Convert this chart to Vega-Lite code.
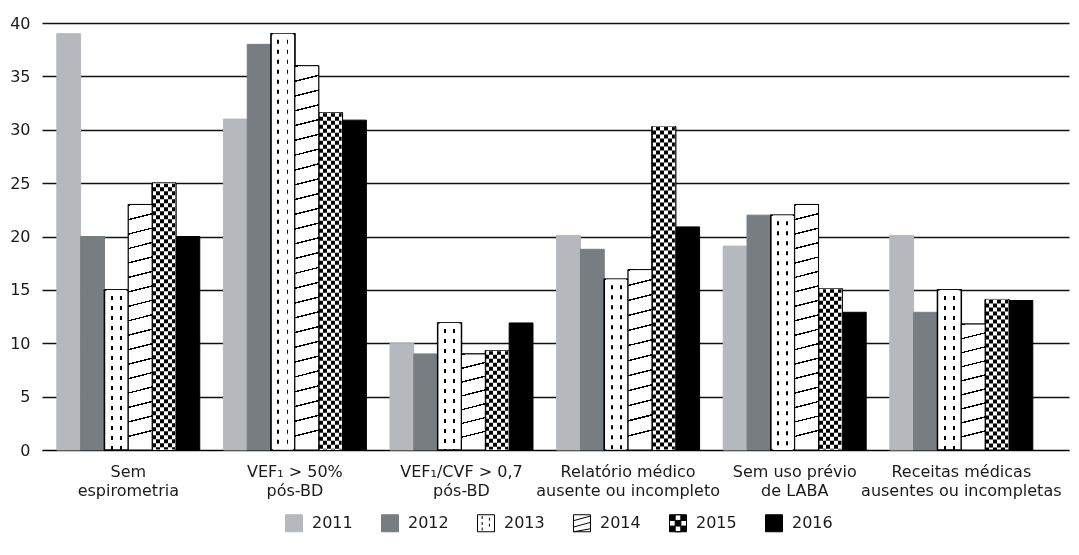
{
  "$schema": "https://vega.github.io/schema/vega-lite/v6.json",
  "width": 1027,
  "height": 427,
  "autosize": {"type": "none"},
  "padding": {"left": 42, "top": 23, "right": 10, "bottom": 105},
  "background": "white",
  "config": {
    "font": "DejaVu Sans",
    "view": {"stroke": null},
    "legend": {"labelFont": "DejaVu Sans", "labelFontSize": 16, "labelColor": "#1a1a1a", "padding": 0}
  },
  "data": {
    "values": [
      {"cat": "Sem\nespirometria", "year": "2011", "value": 39},
      {"cat": "Sem\nespirometria", "year": "2012", "value": 20},
      {"cat": "Sem\nespirometria", "year": "2013", "value": 15},
      {"cat": "Sem\nespirometria", "year": "2014", "value": 23},
      {"cat": "Sem\nespirometria", "year": "2015", "value": 25},
      {"cat": "Sem\nespirometria", "year": "2016", "value": 20},
      {"cat": "VEF₁ > 50%\npós-BD", "year": "2011", "value": 31},
      {"cat": "VEF₁ > 50%\npós-BD", "year": "2012", "value": 38},
      {"cat": "VEF₁ > 50%\npós-BD", "year": "2013", "value": 39},
      {"cat": "VEF₁ > 50%\npós-BD", "year": "2014", "value": 36},
      {"cat": "VEF₁ > 50%\npós-BD", "year": "2015", "value": 31.6},
      {"cat": "VEF₁ > 50%\npós-BD", "year": "2016", "value": 30.9},
      {"cat": "VEF₁/CVF > 0,7\npós-BD", "year": "2011", "value": 10},
      {"cat": "VEF₁/CVF > 0,7\npós-BD", "year": "2012", "value": 9},
      {"cat": "VEF₁/CVF > 0,7\npós-BD", "year": "2013", "value": 11.9},
      {"cat": "VEF₁/CVF > 0,7\npós-BD", "year": "2014", "value": 9},
      {"cat": "VEF₁/CVF > 0,7\npós-BD", "year": "2015", "value": 9.3},
      {"cat": "VEF₁/CVF > 0,7\npós-BD", "year": "2016", "value": 11.9},
      {"cat": "Relatório médico\nausente ou incompleto", "year": "2011", "value": 20.1},
      {"cat": "Relatório médico\nausente ou incompleto", "year": "2012", "value": 18.8},
      {"cat": "Relatório médico\nausente ou incompleto", "year": "2013", "value": 16},
      {"cat": "Relatório médico\nausente ou incompleto", "year": "2014", "value": 16.9},
      {"cat": "Relatório médico\nausente ou incompleto", "year": "2015", "value": 30.3},
      {"cat": "Relatório médico\nausente ou incompleto", "year": "2016", "value": 20.9},
      {"cat": "Sem uso prévio\nde LABA", "year": "2011", "value": 19.1},
      {"cat": "Sem uso prévio\nde LABA", "year": "2012", "value": 22},
      {"cat": "Sem uso prévio\nde LABA", "year": "2013", "value": 22},
      {"cat": "Sem uso prévio\nde LABA", "year": "2014", "value": 23},
      {"cat": "Sem uso prévio\nde LABA", "year": "2015", "value": 15.1},
      {"cat": "Sem uso prévio\nde LABA", "year": "2016", "value": 12.9},
      {"cat": "Receitas médicas\nausentes ou incompletas", "year": "2011", "value": 20.1},
      {"cat": "Receitas médicas\nausentes ou incompletas", "year": "2012", "value": 12.9},
      {"cat": "Receitas médicas\nausentes ou incompletas", "year": "2013", "value": 15},
      {"cat": "Receitas médicas\nausentes ou incompletas", "year": "2014", "value": 11.8},
      {"cat": "Receitas médicas\nausentes ou incompletas", "year": "2015", "value": 14.1},
      {"cat": "Receitas médicas\nausentes ou incompletas", "year": "2016", "value": 14}
    ]
  },
  "encoding": {
    "x": {
      "field": "cat", "type": "nominal", "sort": null,
      "scale": {"paddingInner": 0.1417, "paddingOuter": 0.153, "align": 0.29},
      "axis": {
        "title": null, "labelAngle": 0, "ticks": false, "domain": true,
        "domainColor": "#000", "domainWidth": 1.2, "grid": false,
        "labelExpr": "split(datum.label, '\\n')",
        "labelFontSize": 16, "labelLineHeight": 19, "labelPadding": 13,
        "labelColor": "#1a1a1a", "labelLimit": 0, "labelFont": "DejaVu Sans"
      }
    },
    "xOffset": {"field": "year", "type": "nominal", "scale": {"paddingInner": 0, "paddingOuter": 0}},
    "y": {
      "field": "value", "type": "quantitative",
      "scale": {"domain": [0, 40], "nice": false},
      "axis": {
        "title": null, "grid": true, "gridColor": "#111", "gridWidth": 1.3,
        "domain": false, "ticks": false, "values": [0, 5, 10, 15, 20, 25, 30, 35, 40],
        "labelFontSize": 16, "labelPadding": 12, "labelColor": "#1a1a1a", "labelFont": "DejaVu Sans"
      }
    }
  },
  "layer": [
    {
      "mark": {"type": "bar", "strokeWidth": 1, "opacity": 1},
      "encoding": {
        "color": {
          "field": "year", "type": "nominal",
          "scale": {"domain": ["2011", "2012", "2013", "2014", "2015", "2016"], "range": ["#b5b9be", "#777d80", "#ffffff", "#ffffff", "#000000", "#000000"]},
          "legend": {"title": null, "orient": "none", "legendX": 243, "legendY": 491, "direction": "horizontal", "symbolSize": 289, "symbolStrokeWidth": 1, "symbolOpacity": 1, "columnPadding": 26, "labelOffset": 9}
        },
        "stroke": {
          "field": "year", "type": "nominal",
          "scale": {"domain": ["2011", "2012", "2013", "2014", "2015", "2016"], "range": ["#b5b9be", "#777d80", "#000000", "#000000", "#000000", "#000000"]},
          "legend": {"title": null, "orient": "none", "legendX": 243, "legendY": 491, "direction": "horizontal", "symbolSize": 289, "symbolStrokeWidth": 1, "symbolOpacity": 1, "columnPadding": 26, "labelOffset": 9}
        }
      }
    },
    {
      "transform": [{"filter": "false"}],
      "mark": {"type": "point", "filled": true, "opacity": 1, "fillOpacity": 1, "strokeOpacity": 1},
      "encoding": {
        "color": {"field": "year", "type": "nominal"},
        "stroke": {"field": "year", "type": "nominal"},
        "shape": {
          "field": "year", "type": "nominal",
          "scale": {"domain": ["2011", "2012", "2013", "2014", "2015", "2016"], "range": [
            "M-1,-1H1V1H-1Z",
            "M-1,-1H1V1H-1Z",
            "M-1,-1H1V1H-1Z M-0.45,-0.85V-0.5 M0.4,-0.65V-0.3 M-0.45,-0.15V0.2 M0.4,0.05V0.4 M-0.45,0.5V0.85",
            "M-1,-1H1V1H-1Z M-1,-0.3L1,-0.85 M-1,0.45L1,-0.1 M-1,1L1,0.65",
            "M-1,-1H1V1H-1Z M-0.333,-1V-0.333H0.333V-1Z M-1,-0.333V0.333H-0.333V-0.333Z M0.333,-0.333V0.333H1V-0.333Z M-0.333,0.333V1H0.333V0.333Z",
            "M-1,-1H1V1H-1Z"
          ]},
          "legend": {"title": null, "orient": "none", "legendX": 243, "legendY": 491, "direction": "horizontal", "symbolSize": 289, "symbolStrokeWidth": 1, "symbolOpacity": 1, "columnPadding": 26, "labelOffset": 9}
        }
      }
    },
    {
      "transform": [{"filter": "datum.year == '2013'"}],
      "mark": {"type": "bar", "stroke": "#000", "strokeWidth": 1.5,
        "fill": {"gradient": "linear", "x1": 0, "y1": 0, "x2": 1, "y2": 0, "stops": [
          {"offset": 0, "color": "#fff"}, {"offset": 0.27, "color": "#fff"}, {"offset": 0.27, "color": "#000"}, {"offset": 0.35, "color": "#000"},
          {"offset": 0.35, "color": "#fff"}, {"offset": 0.65, "color": "#fff"}, {"offset": 0.65, "color": "#000"}, {"offset": 0.73, "color": "#000"},
          {"offset": 0.73, "color": "#fff"}, {"offset": 1, "color": "#fff"}]}}
    },
    {
      "transform": [{"filter": "datum.year == '2013'"}],
      "mark": {"type": "rule", "color": "#fff", "strokeWidth": 20, "strokeDash": [6, 4]},
      "encoding": {"y2": {"datum": 0}}
    },
    {
      "transform": [{"filter": "datum.year == '2015'"}],
      "mark": {"type": "bar", "stroke": "#000", "strokeWidth": 1,
        "fill": {"gradient": "linear", "x1": 0, "y1": 0, "x2": 1, "y2": 0, "stops": [
          {"offset": 0, "color": "#000"}, {"offset": 0.1667, "color": "#000"}, {"offset": 0.1667, "color": "#fff"}, {"offset": 0.3333, "color": "#fff"},
          {"offset": 0.3333, "color": "#000"}, {"offset": 0.5, "color": "#000"}, {"offset": 0.5, "color": "#fff"}, {"offset": 0.6667, "color": "#fff"},
          {"offset": 0.6667, "color": "#000"}, {"offset": 0.8333, "color": "#000"}, {"offset": 0.8333, "color": "#fff"}, {"offset": 1, "color": "#fff"}]}}
    },
    {
      "transform": [{"filter": "datum.year == '2015'"}],
      "mark": {"type": "rule", "color": "#fff", "strokeWidth": 22, "strokeDash": [4, 4], "blend": "difference"},
      "encoding": {"y2": {"datum": 0}}
    },
    {
      "transform": [{"filter": "datum.year == '2014'"}],
      "mark": {"type": "bar", "stroke": "#000", "strokeWidth": 1},
      "encoding": {
        "fill": {
          "condition": [
            {"test": "datum.value >= 30", "value": {"gradient": "linear", "x1": 0, "y1": 0, "x2": 0.0156, "y2": 1, "stops": [
              {"offset": 0, "color": "#fff"}, {"offset": 0, "color": "#000"}, {"offset": 0.0038, "color": "#000"}, {"offset": 0.0038, "color": "#fff"},
              {"offset": 0.0385, "color": "#fff"}, {"offset": 0.0385, "color": "#000"}, {"offset": 0.0423, "color": "#000"}, {"offset": 0.0423, "color": "#fff"},
              {"offset": 0.0769, "color": "#fff"}, {"offset": 0.0769, "color": "#000"}, {"offset": 0.0808, "color": "#000"}, {"offset": 0.0808, "color": "#fff"},
              {"offset": 0.1154, "color": "#fff"}, {"offset": 0.1154, "color": "#000"}, {"offset": 0.1192, "color": "#000"}, {"offset": 0.1192, "color": "#fff"},
              {"offset": 0.1538, "color": "#fff"}, {"offset": 0.1538, "color": "#000"}, {"offset": 0.1577, "color": "#000"}, {"offset": 0.1577, "color": "#fff"},
              {"offset": 0.1923, "color": "#fff"}, {"offset": 0.1923, "color": "#000"}, {"offset": 0.1962, "color": "#000"}, {"offset": 0.1962, "color": "#fff"},
              {"offset": 0.2308, "color": "#fff"}, {"offset": 0.2308, "color": "#000"}, {"offset": 0.2346, "color": "#000"}, {"offset": 0.2346, "color": "#fff"},
              {"offset": 0.2692, "color": "#fff"}, {"offset": 0.2692, "color": "#000"}, {"offset": 0.2731, "color": "#000"}, {"offset": 0.2731, "color": "#fff"},
              {"offset": 0.3077, "color": "#fff"}, {"offset": 0.3077, "color": "#000"}, {"offset": 0.3115, "color": "#000"}, {"offset": 0.3115, "color": "#fff"},
              {"offset": 0.3462, "color": "#fff"}, {"offset": 0.3462, "color": "#000"}, {"offset": 0.35, "color": "#000"}, {"offset": 0.35, "color": "#fff"},
              {"offset": 0.3846, "color": "#fff"}, {"offset": 0.3846, "color": "#000"}, {"offset": 0.3885, "color": "#000"}, {"offset": 0.3885, "color": "#fff"},
              {"offset": 0.4231, "color": "#fff"}, {"offset": 0.4231, "color": "#000"}, {"offset": 0.4269, "color": "#000"}, {"offset": 0.4269, "color": "#fff"},
              {"offset": 0.4615, "color": "#fff"}, {"offset": 0.4615, "color": "#000"}, {"offset": 0.4654, "color": "#000"}, {"offset": 0.4654, "color": "#fff"},
              {"offset": 0.5, "color": "#fff"}, {"offset": 0.5, "color": "#000"}, {"offset": 0.5038, "color": "#000"}, {"offset": 0.5038, "color": "#fff"},
              {"offset": 0.5385, "color": "#fff"}, {"offset": 0.5385, "color": "#000"}, {"offset": 0.5423, "color": "#000"}, {"offset": 0.5423, "color": "#fff"},
              {"offset": 0.5769, "color": "#fff"}, {"offset": 0.5769, "color": "#000"}, {"offset": 0.5808, "color": "#000"}, {"offset": 0.5808, "color": "#fff"},
              {"offset": 0.6154, "color": "#fff"}, {"offset": 0.6154, "color": "#000"}, {"offset": 0.6192, "color": "#000"}, {"offset": 0.6192, "color": "#fff"},
              {"offset": 0.6538, "color": "#fff"}, {"offset": 0.6538, "color": "#000"}, {"offset": 0.6577, "color": "#000"}, {"offset": 0.6577, "color": "#fff"},
              {"offset": 0.6923, "color": "#fff"}, {"offset": 0.6923, "color": "#000"}, {"offset": 0.6962, "color": "#000"}, {"offset": 0.6962, "color": "#fff"},
              {"offset": 0.7308, "color": "#fff"}, {"offset": 0.7308, "color": "#000"}, {"offset": 0.7346, "color": "#000"}, {"offset": 0.7346, "color": "#fff"},
              {"offset": 0.7692, "color": "#fff"}, {"offset": 0.7692, "color": "#000"}, {"offset": 0.7731, "color": "#000"}, {"offset": 0.7731, "color": "#fff"},
              {"offset": 0.8077, "color": "#fff"}, {"offset": 0.8077, "color": "#000"}, {"offset": 0.8115, "color": "#000"}, {"offset": 0.8115, "color": "#fff"},
              {"offset": 0.8462, "color": "#fff"}, {"offset": 0.8462, "color": "#000"}, {"offset": 0.85, "color": "#000"}, {"offset": 0.85, "color": "#fff"},
              {"offset": 0.8846, "color": "#fff"}, {"offset": 0.8846, "color": "#000"}, {"offset": 0.8885, "color": "#000"}, {"offset": 0.8885, "color": "#fff"},
              {"offset": 0.9231, "color": "#fff"}, {"offset": 0.9231, "color": "#000"}, {"offset": 0.9269, "color": "#000"}, {"offset": 0.9269, "color": "#fff"},
              {"offset": 0.9615, "color": "#fff"}, {"offset": 0.9615, "color": "#000"}, {"offset": 0.9654, "color": "#000"}, {"offset": 0.9654, "color": "#fff"},
              {"offset": 1, "color": "#fff"}]}},
            {"test": "datum.value >= 20", "value": {"gradient": "linear", "x1": 0, "y1": 0, "x2": 0.0245, "y2": 1, "stops": [
              {"offset": 0, "color": "#fff"}, {"offset": 0, "color": "#000"}, {"offset": 0.0059, "color": "#000"}, {"offset": 0.0059, "color": "#fff"},
              {"offset": 0.0588, "color": "#fff"}, {"offset": 0.0588, "color": "#000"}, {"offset": 0.0647, "color": "#000"}, {"offset": 0.0647, "color": "#fff"},
              {"offset": 0.1176, "color": "#fff"}, {"offset": 0.1176, "color": "#000"}, {"offset": 0.1235, "color": "#000"}, {"offset": 0.1235, "color": "#fff"},
              {"offset": 0.1765, "color": "#fff"}, {"offset": 0.1765, "color": "#000"}, {"offset": 0.1824, "color": "#000"}, {"offset": 0.1824, "color": "#fff"},
              {"offset": 0.2353, "color": "#fff"}, {"offset": 0.2353, "color": "#000"}, {"offset": 0.2412, "color": "#000"}, {"offset": 0.2412, "color": "#fff"},
              {"offset": 0.2941, "color": "#fff"}, {"offset": 0.2941, "color": "#000"}, {"offset": 0.3, "color": "#000"}, {"offset": 0.3, "color": "#fff"},
              {"offset": 0.3529, "color": "#fff"}, {"offset": 0.3529, "color": "#000"}, {"offset": 0.3588, "color": "#000"}, {"offset": 0.3588, "color": "#fff"},
              {"offset": 0.4118, "color": "#fff"}, {"offset": 0.4118, "color": "#000"}, {"offset": 0.4176, "color": "#000"}, {"offset": 0.4176, "color": "#fff"},
              {"offset": 0.4706, "color": "#fff"}, {"offset": 0.4706, "color": "#000"}, {"offset": 0.4765, "color": "#000"}, {"offset": 0.4765, "color": "#fff"},
              {"offset": 0.5294, "color": "#fff"}, {"offset": 0.5294, "color": "#000"}, {"offset": 0.5353, "color": "#000"}, {"offset": 0.5353, "color": "#fff"},
              {"offset": 0.5882, "color": "#fff"}, {"offset": 0.5882, "color": "#000"}, {"offset": 0.5941, "color": "#000"}, {"offset": 0.5941, "color": "#fff"},
              {"offset": 0.6471, "color": "#fff"}, {"offset": 0.6471, "color": "#000"}, {"offset": 0.6529, "color": "#000"}, {"offset": 0.6529, "color": "#fff"},
              {"offset": 0.7059, "color": "#fff"}, {"offset": 0.7059, "color": "#000"}, {"offset": 0.7118, "color": "#000"}, {"offset": 0.7118, "color": "#fff"},
              {"offset": 0.7647, "color": "#fff"}, {"offset": 0.7647, "color": "#000"}, {"offset": 0.7706, "color": "#000"}, {"offset": 0.7706, "color": "#fff"},
              {"offset": 0.8235, "color": "#fff"}, {"offset": 0.8235, "color": "#000"}, {"offset": 0.8294, "color": "#000"}, {"offset": 0.8294, "color": "#fff"},
              {"offset": 0.8824, "color": "#fff"}, {"offset": 0.8824, "color": "#000"}, {"offset": 0.8882, "color": "#000"}, {"offset": 0.8882, "color": "#fff"},
              {"offset": 0.9412, "color": "#fff"}, {"offset": 0.9412, "color": "#000"}, {"offset": 0.9471, "color": "#000"}, {"offset": 0.9471, "color": "#fff"},
              {"offset": 1, "color": "#fff"}]}},
            {"test": "datum.value >= 14", "value": {"gradient": "linear", "x1": 0, "y1": 0, "x2": 0.033, "y2": 1, "stops": [
              {"offset": 0, "color": "#fff"}, {"offset": 0, "color": "#000"}, {"offset": 0.0083, "color": "#000"}, {"offset": 0.0083, "color": "#fff"},
              {"offset": 0.0833, "color": "#fff"}, {"offset": 0.0833, "color": "#000"}, {"offset": 0.0917, "color": "#000"}, {"offset": 0.0917, "color": "#fff"},
              {"offset": 0.1667, "color": "#fff"}, {"offset": 0.1667, "color": "#000"}, {"offset": 0.175, "color": "#000"}, {"offset": 0.175, "color": "#fff"},
              {"offset": 0.25, "color": "#fff"}, {"offset": 0.25, "color": "#000"}, {"offset": 0.2583, "color": "#000"}, {"offset": 0.2583, "color": "#fff"},
              {"offset": 0.3333, "color": "#fff"}, {"offset": 0.3333, "color": "#000"}, {"offset": 0.3417, "color": "#000"}, {"offset": 0.3417, "color": "#fff"},
              {"offset": 0.4167, "color": "#fff"}, {"offset": 0.4167, "color": "#000"}, {"offset": 0.425, "color": "#000"}, {"offset": 0.425, "color": "#fff"},
              {"offset": 0.5, "color": "#fff"}, {"offset": 0.5, "color": "#000"}, {"offset": 0.5083, "color": "#000"}, {"offset": 0.5083, "color": "#fff"},
              {"offset": 0.5833, "color": "#fff"}, {"offset": 0.5833, "color": "#000"}, {"offset": 0.5917, "color": "#000"}, {"offset": 0.5917, "color": "#fff"},
              {"offset": 0.6667, "color": "#fff"}, {"offset": 0.6667, "color": "#000"}, {"offset": 0.675, "color": "#000"}, {"offset": 0.675, "color": "#fff"},
              {"offset": 0.75, "color": "#fff"}, {"offset": 0.75, "color": "#000"}, {"offset": 0.7583, "color": "#000"}, {"offset": 0.7583, "color": "#fff"},
              {"offset": 0.8333, "color": "#fff"}, {"offset": 0.8333, "color": "#000"}, {"offset": 0.8417, "color": "#000"}, {"offset": 0.8417, "color": "#fff"},
              {"offset": 0.9167, "color": "#fff"}, {"offset": 0.9167, "color": "#000"}, {"offset": 0.925, "color": "#000"}, {"offset": 0.925, "color": "#fff"},
              {"offset": 1, "color": "#fff"}]}},
            {"test": "datum.value >= 10", "value": {"gradient": "linear", "x1": 0, "y1": 0, "x2": 0.047, "y2": 1, "stops": [
              {"offset": 0, "color": "#fff"}, {"offset": 0, "color": "#000"}, {"offset": 0.0111, "color": "#000"}, {"offset": 0.0111, "color": "#fff"},
              {"offset": 0.1111, "color": "#fff"}, {"offset": 0.1111, "color": "#000"}, {"offset": 0.1222, "color": "#000"}, {"offset": 0.1222, "color": "#fff"},
              {"offset": 0.2222, "color": "#fff"}, {"offset": 0.2222, "color": "#000"}, {"offset": 0.2333, "color": "#000"}, {"offset": 0.2333, "color": "#fff"},
              {"offset": 0.3333, "color": "#fff"}, {"offset": 0.3333, "color": "#000"}, {"offset": 0.3444, "color": "#000"}, {"offset": 0.3444, "color": "#fff"},
              {"offset": 0.4444, "color": "#fff"}, {"offset": 0.4444, "color": "#000"}, {"offset": 0.4556, "color": "#000"}, {"offset": 0.4556, "color": "#fff"},
              {"offset": 0.5556, "color": "#fff"}, {"offset": 0.5556, "color": "#000"}, {"offset": 0.5667, "color": "#000"}, {"offset": 0.5667, "color": "#fff"},
              {"offset": 0.6667, "color": "#fff"}, {"offset": 0.6667, "color": "#000"}, {"offset": 0.6778, "color": "#000"}, {"offset": 0.6778, "color": "#fff"},
              {"offset": 0.7778, "color": "#fff"}, {"offset": 0.7778, "color": "#000"}, {"offset": 0.7889, "color": "#000"}, {"offset": 0.7889, "color": "#fff"},
              {"offset": 0.8889, "color": "#fff"}, {"offset": 0.8889, "color": "#000"}, {"offset": 0.9, "color": "#000"}, {"offset": 0.9, "color": "#fff"},
              {"offset": 1, "color": "#fff"}]}}
          ],
          "value": {"gradient": "linear", "x1": 0, "y1": 0, "x2": 0.0625, "y2": 1, "stops": [
            {"offset": 0, "color": "#fff"}, {"offset": 0, "color": "#000"}, {"offset": 0.0143, "color": "#000"}, {"offset": 0.0143, "color": "#fff"},
            {"offset": 0.1429, "color": "#fff"}, {"offset": 0.1429, "color": "#000"}, {"offset": 0.1571, "color": "#000"}, {"offset": 0.1571, "color": "#fff"},
            {"offset": 0.2857, "color": "#fff"}, {"offset": 0.2857, "color": "#000"}, {"offset": 0.3, "color": "#000"}, {"offset": 0.3, "color": "#fff"},
            {"offset": 0.4286, "color": "#fff"}, {"offset": 0.4286, "color": "#000"}, {"offset": 0.4429, "color": "#000"}, {"offset": 0.4429, "color": "#fff"},
            {"offset": 0.5714, "color": "#fff"}, {"offset": 0.5714, "color": "#000"}, {"offset": 0.5857, "color": "#000"}, {"offset": 0.5857, "color": "#fff"},
            {"offset": 0.7143, "color": "#fff"}, {"offset": 0.7143, "color": "#000"}, {"offset": 0.7286, "color": "#000"}, {"offset": 0.7286, "color": "#fff"},
            {"offset": 0.8571, "color": "#fff"}, {"offset": 0.8571, "color": "#000"}, {"offset": 0.8714, "color": "#000"}, {"offset": 0.8714, "color": "#fff"},
            {"offset": 1, "color": "#fff"}]}
        }
      }
    }
  ]
}
